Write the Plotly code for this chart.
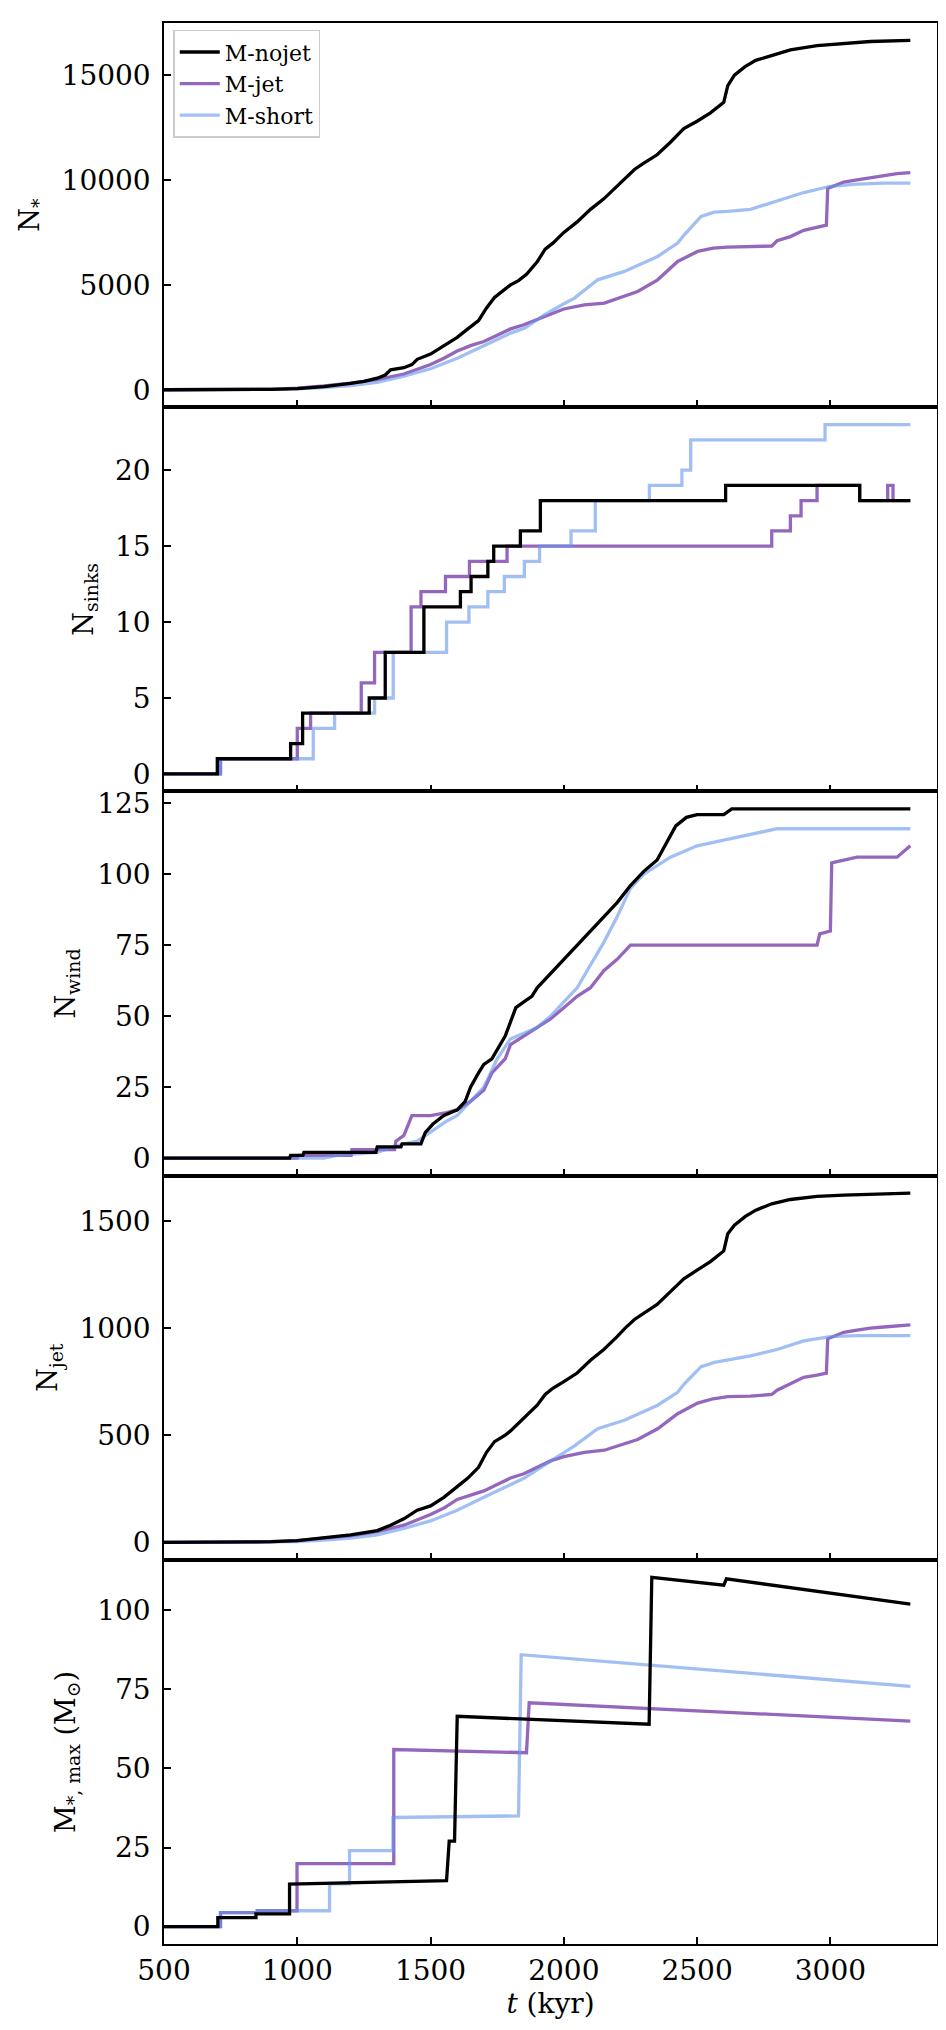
import plotly.graph_objects as go
from plotly.subplots import make_subplots

# ---------------- data (t in kyr) ----------------
# Panel 1: N_*
nstar_nojet_t = [500, 800, 900, 1000, 1100, 1200, 1250, 1300, 1330, 1350, 1400, 1430, 1450, 1500, 1550, 1600, 1640, 1680, 1710, 1740, 1770, 1800, 1830, 1860, 1900, 1930, 1960, 2000, 2050, 2100, 2150, 2200, 2230, 2265, 2300, 2350, 2400, 2450, 2500, 2550, 2600, 2615, 2640, 2680, 2720, 2780, 2850, 2950, 3050, 3150, 3300]
nstar_nojet_v = [0, 5, 15, 50, 150, 300, 400, 550, 700, 950, 1050, 1200, 1450, 1700, 2100, 2500, 2900, 3300, 3900, 4400, 4700, 5000, 5200, 5500, 6100, 6700, 7000, 7500, 8000, 8600, 9100, 9700, 10100, 10500, 10800, 11200, 11800, 12450, 12800, 13200, 13700, 14500, 15000, 15400, 15700, 15950, 16200, 16400, 16500, 16600, 16650]
nstar_jet_t = [500, 900, 1000, 1100, 1200, 1300, 1400, 1500, 1550, 1600, 1650, 1700, 1750, 1800, 1850, 1900, 1950, 2000, 2077, 2152, 2200, 2277, 2352, 2427, 2502, 2560, 2615, 2700, 2780, 2800, 2850, 2900, 2950, 2985, 2990, 3050, 3100, 3150, 3200, 3250, 3300]
nstar_jet_v = [0, 20, 80, 180, 320, 480, 750, 1200, 1500, 1850, 2100, 2300, 2600, 2900, 3100, 3330, 3600, 3850, 4050, 4130, 4350, 4685, 5240, 6116, 6593, 6750, 6800, 6820, 6850, 7100, 7300, 7600, 7750, 7850, 9600, 9900, 10000, 10100, 10200, 10300, 10350]
nstar_short_t = [500, 900, 1000, 1100, 1200, 1300, 1400, 1500, 1600, 1700, 1800, 1852, 1927, 2000, 2040, 2127, 2227, 2352, 2427, 2452, 2515, 2565, 2615, 2700, 2800, 2900, 3000, 3100, 3200, 3300]
nstar_short_v = [0, 10, 40, 100, 200, 350, 650, 1000, 1500, 2100, 2700, 2935, 3570, 4100, 4366, 5240, 5640, 6354, 6990, 7385, 8262, 8468, 8500, 8600, 9000, 9400, 9700, 9800, 9850, 9850]

# Panel 2: N_sinks (step functions; value holds from t until next t)
sinks_nojet_t = [500, 700, 975, 1020, 1270, 1330, 1475, 1612, 1652, 1715, 1737, 1837, 1912, 2607, 3110, 3300]
sinks_nojet_v = [0, 1, 2, 4, 5, 8, 11, 12, 13, 14, 15, 16, 18, 19, 18, 18]
sinks_jet_t = [500, 712, 1000, 1050, 1240, 1290, 1427, 1464, 1556, 1646, 1787, 2780, 2850, 2890, 2950, 3110, 3215, 3235, 3300]
sinks_jet_v = [0, 1, 3, 4, 6, 8, 11, 12, 13, 14, 15, 16, 17, 18, 19, 18, 19, 18, 18]
sinks_short_t = [500, 712, 1060, 1140, 1290, 1360, 1560, 1644, 1715, 1777, 1852, 1909, 2027, 2118, 2321, 2443, 2476, 2980, 3300]
sinks_short_v = [0, 1, 3, 4, 5, 8, 10, 11, 12, 13, 14, 15, 16, 18, 19, 20, 22, 23, 23]

# Panel 3: N_wind
wind_nojet_t = [500, 971, 975, 1021, 1025, 1295, 1300, 1389, 1393, 1464, 1480, 1509, 1550, 1600, 1630, 1650, 1680, 1700, 1730, 1760, 1780, 1800, 1820, 1850, 1880, 1900, 1950, 2000, 2050, 2100, 2150, 2200, 2250, 2300, 2350, 2380, 2420, 2460, 2500, 2600, 2630, 3300]
wind_nojet_v = [0, 0, 1, 1, 2, 2, 4, 4, 5, 5, 9, 12, 15, 17, 20, 25, 30, 33, 35, 40, 43, 48, 53, 55, 57, 60, 65, 70, 75, 80, 85, 90, 96, 101, 105, 110, 117, 120, 121, 121, 123, 123]
wind_jet_t = [500, 1000, 1005, 1202, 1205, 1365, 1370, 1400, 1430, 1500, 1560, 1600, 1650, 1700, 1730, 1780, 1800, 1850, 1900, 1950, 2000, 2050, 2100, 2150, 2200, 2250, 2950, 2960, 3000, 3005, 3100, 3250, 3300]
wind_jet_v = [0, 0, 1, 1, 3, 3, 6, 8, 15, 15, 16, 17, 20, 24, 30, 35, 40, 43, 46, 49, 53, 57, 60, 66, 70, 75, 75, 79, 80, 104, 106, 106, 110]
wind_short_t = [500, 1100, 1150, 1300, 1330, 1400, 1450, 1510, 1560, 1600, 1650, 1700, 1750, 1800, 1850, 1900, 1950, 2000, 2050, 2100, 2150, 2200, 2250, 2300, 2350, 2400, 2450, 2500, 2600, 2700, 2800, 3300]
wind_short_v = [0, 0, 1, 2, 3, 5, 6, 10, 13, 15, 20, 25, 35, 42, 44, 46, 50, 55, 60, 68, 76, 85, 95, 100, 103, 106, 108, 110, 112, 114, 116, 116]

# Panel 4: N_jet
njet_nojet_t = [500, 900, 1000, 1100, 1200, 1300, 1350, 1400, 1450, 1500, 1550, 1600, 1640, 1680, 1710, 1740, 1780, 1800, 1850, 1900, 1930, 1960, 2000, 2050, 2100, 2150, 2200, 2230, 2265, 2300, 2350, 2400, 2450, 2500, 2550, 2600, 2615, 2640, 2680, 2720, 2780, 2850, 2950, 3050, 3150, 3300]
njet_nojet_v = [0, 3, 8, 20, 35, 55, 80, 110, 150, 170, 210, 260, 300, 350, 420, 470, 500, 520, 580, 640, 690, 720, 750, 790, 850, 900, 960, 1000, 1040, 1070, 1110, 1170, 1230, 1270, 1310, 1360, 1440, 1480, 1520, 1550, 1580, 1600, 1615, 1620, 1625, 1630]
njet_jet_t = [500, 900, 1000, 1100, 1200, 1300, 1400, 1500, 1550, 1600, 1650, 1700, 1750, 1800, 1850, 1900, 1950, 2000, 2077, 2152, 2200, 2277, 2352, 2427, 2502, 2560, 2615, 2700, 2780, 2800, 2850, 2900, 2950, 2985, 2990, 3050, 3100, 3150, 3200, 3250, 3300]
njet_jet_v = [0, 2, 8, 18, 30, 50, 80, 130, 160, 200, 220, 240, 270, 300, 320, 350, 380, 400, 420, 430, 450, 480, 530, 600, 650, 670, 680, 682, 690, 710, 740, 770, 780, 790, 950, 980, 990, 1000, 1005, 1010, 1015]
njet_short_t = [500, 900, 1000, 1100, 1200, 1300, 1400, 1500, 1600, 1700, 1800, 1852, 1927, 2000, 2040, 2127, 2227, 2352, 2427, 2452, 2515, 2565, 2615, 2700, 2800, 2900, 3000, 3100, 3200, 3300]
njet_short_v = [0, 1, 4, 10, 20, 35, 65, 100, 150, 210, 270, 300, 360, 420, 450, 530, 570, 640, 700, 740, 820, 840, 850, 870, 900, 940, 960, 965, 965, 965]

# Panel 5: M_*,max (Msun)
mmax_nojet_t = [500, 702, 702, 845, 845, 971, 971, 1560, 1570, 1590, 1600, 2320, 2330, 2600, 2610, 3300]
mmax_nojet_v = [0, 0, 2.8, 2.8, 4, 4, 13.4, 14.5, 27, 27, 66.5, 64, 110.5, 108, 110, 102]
mmax_jet_t = [500, 712, 712, 850, 850, 999, 999, 1362, 1362, 1860, 1870, 3300]
mmax_jet_v = [0, 0, 4.4, 4.4, 5, 5, 19.9, 19.9, 56, 55, 70.8, 65]
mmax_short_t = [500, 712, 712, 850, 850, 1121, 1121, 1196, 1196, 1359, 1359, 1830, 1840, 3300]
mmax_short_v = [0, 0, 4.4, 4.4, 5, 5, 13.5, 13.5, 24, 24, 34.5, 35, 86, 76]

run_names = ["M-nojet", "M-jet", "M-short"]
y_titles = ["N<sub>*</sub>",
            "N<sub>sinks</sub>",
            "N<sub>wind</sub>",
            "N<sub>jet</sub>",
            "M<sub>*, max</sub> (M<sub>⊙</sub>)"]
y_ticks = [[0, 5000, 10000, 15000], [0, 5, 10, 15, 20], [0, 25, 50, 75, 100, 125],
           [0, 500, 1000, 1500], [0, 25, 50, 75, 100]]
x_ticks = [500, 1000, 1500, 2000, 2500, 3000]

panels = [
    [(nstar_nojet_t, nstar_nojet_v), (nstar_jet_t, nstar_jet_v), (nstar_short_t, nstar_short_v)],
    [(sinks_nojet_t, sinks_nojet_v), (sinks_jet_t, sinks_jet_v), (sinks_short_t, sinks_short_v)],
    [(wind_nojet_t, wind_nojet_v), (wind_jet_t, wind_jet_v), (wind_short_t, wind_short_v)],
    [(njet_nojet_t, njet_nojet_v), (njet_jet_t, njet_jet_v), (njet_short_t, njet_short_v)],
    [(mmax_nojet_t, mmax_nojet_v), (mmax_jet_t, mmax_jet_v), (mmax_short_t, mmax_short_v)],
]

colors = ["#000000", "rgb(148,103,189)", "rgba(100,149,237,0.6)"]
FONT = "DejaVu Serif"

fig = make_subplots(rows=5, cols=1, shared_xaxes=True, vertical_spacing=0)

draw_order = [1, 2, 0]  # purple, blue, black on top
for r, series in enumerate(panels, start=1):
    shape = "hv" if r == 2 else "linear"
    for k in draw_order:
        t, v = series[k]
        fig.add_trace(go.Scatter(
            x=t, y=v, mode="lines", name=run_names[k],
            line=dict(color=colors[k], width=3.3, shape=shape),
            showlegend=(r == 1), legendrank=k + 1,
        ), row=r, col=1)

for r in range(1, 6):
    vals = [y for s in panels[r - 1] for y in s[1]]
    lo, hi = min(vals), max(vals)
    pad = 0.05 * (hi - lo)
    fig.update_yaxes(
        row=r, col=1, range=[lo - pad, hi + pad],
        tickvals=y_ticks[r - 1], ticktext=[str(v) for v in y_ticks[r - 1]],
        ticks="inside", ticklen=7, tickwidth=1.5, tickcolor="black",
        showline=True, linecolor="black", linewidth=1.5, mirror=True,
        showgrid=False, zeroline=False, ticklabelstandoff=6,
        tickfont=dict(family=FONT, size=28, color="black"),
        title=dict(text=y_titles[r - 1], font=dict(family=FONT, size=27, color="black"), standoff=14),
    )
    fig.update_xaxes(
        row=r, col=1, range=[500, 3400],
        tickvals=x_ticks, ticktext=[str(v) for v in x_ticks],
        ticks="inside", ticklen=7, tickwidth=1.5, tickcolor="black",
        showline=True, linecolor="black", linewidth=1.5, mirror=True,
        showgrid=False, zeroline=False, showticklabels=(r == 5), ticklabelstandoff=1,
        tickfont=dict(family=FONT, size=28, color="black"),
    )

fig.update_xaxes(row=5, col=1, title=dict(text="<i>t</i> (kyr)", font=dict(family=FONT, size=28, color="black"), standoff=4))

fig.update_layout(
    width=946, height=2030,
    margin=dict(l=156, r=17, t=15, b=94),
    paper_bgcolor="white", plot_bgcolor="white",
    font=dict(family=FONT, color="black"),
    legend=dict(x=0.012, y=0.9965, xanchor="left", yanchor="top",
                bgcolor="white", bordercolor="#cccccc", borderwidth=1.5,
                font=dict(family=FONT, size=22, color="black"),
                tracegroupgap=0, itemwidth=40),
)

fig.write_html("out.html")
